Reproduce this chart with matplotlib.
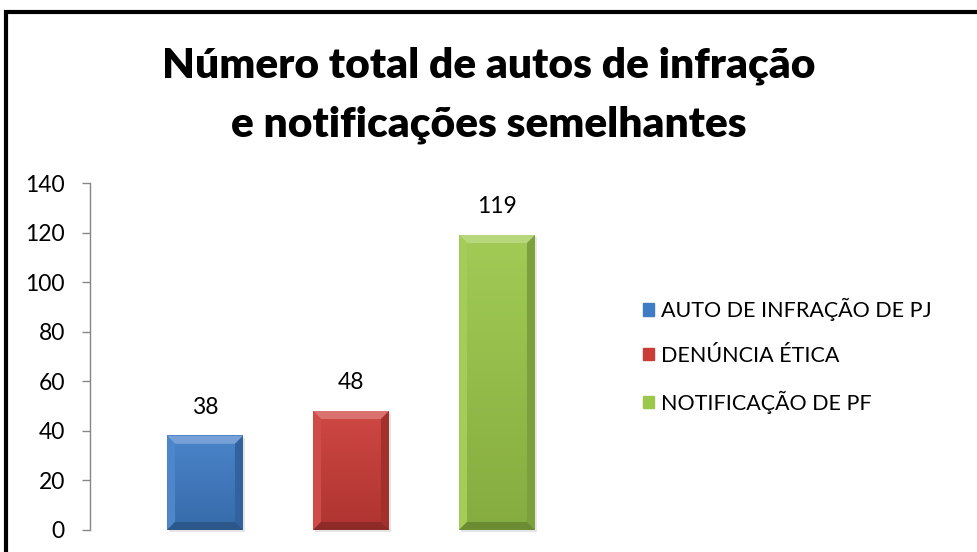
import numpy as np
import matplotlib
matplotlib.use("Agg")
import matplotlib.pyplot as plt
from matplotlib.patches import Polygon, Rectangle
from matplotlib.colors import to_rgb

# data
categories = ["AUTO DE INFRAÇÃO DE PJ", "DENÚNCIA ÉTICA", "NOTIFICAÇÃO DE PF"]
values = [38, 48, 119]
bar_colors = ["#3F7CC6", "#CB3C38", "#9BC84A"]
title_lines = ["Número total de autos de infração", "e notificações semelhantes"]
y_ticks = [0, 20, 40, 60, 80, 100, 120, 140]

plt.rcParams['font.family'] = ['Lato', 'DejaVu Sans']

W, H = 977, 552
fig = plt.figure(figsize=(W / 100, H / 100), dpi=100)
fig.patch.set_facecolor("white")

# axes placed in pixel terms
ax_left, ax_right, ax_top, ax_bottom = 90, 570, 183, 530
ax = fig.add_axes([ax_left / W, (H - ax_bottom) / H,
                   (ax_right - ax_left) / W, (ax_bottom - ax_top) / H])

x = np.arange(len(values))
bar_w = 0.52
ax.set_xlim(-0.788, 2.5)
ax.set_ylim(0, 140)

bars = ax.bar(x, values, width=bar_w, color=bar_colors, zorder=2)


def shade(c, f):
    r = np.array(to_rgb(c))
    if f >= 0:
        return tuple(r + (1 - r) * f)
    return tuple(r * (1 + f))


# pixel size in data units, to draw the bevel edges
p0 = ax.transData.transform((0, 0))
p1 = ax.transData.transform((1, 1))
ux = 1 / (p1[0] - p0[0])
uy = 1 / (p1[1] - p0[1])
bev = 8

for b, c in zip(bars, bar_colors):
    x0 = b.get_x()
    x1 = x0 + b.get_width()
    h = b.get_height()
    bx, by = bev * ux, bev * uy
    b.set_visible(False)
    # soft shadow
    ax.add_patch(Rectangle((x0 + 2 * ux, -2 * uy), x1 - x0, h, color="#000000",
                           alpha=0.10, lw=0, zorder=1.5, clip_on=False))
    # face with vertical gradient
    grad = np.linspace(0, 1, 64).reshape(-1, 1)
    top_c = np.array(shade(c, 0.06))
    bot_c = np.array(shade(c, -0.14))
    img = bot_c[None, None, :] * (1 - grad[:, :, None]) + top_c[None, None, :] * grad[:, :, None]
    ax.imshow(img, extent=[x0, x1, 0, h], origin="lower", aspect="auto",
              zorder=2, interpolation="bilinear")
    # bevel edges
    ax.add_patch(Polygon([(x0, h), (x1, h), (x1 - bx, h - by), (x0 + bx, h - by)],
                         closed=True, color=shade(c, 0.28), lw=0, zorder=3))
    ax.add_patch(Polygon([(x0, 0), (x0, h), (x0 + bx, h - by), (x0 + bx, by)],
                         closed=True, color=shade(c, 0.08), lw=0, zorder=3))
    ax.add_patch(Polygon([(x1, 0), (x1, h), (x1 - bx, h - by), (x1 - bx, by)],
                         closed=True, color=shade(c, -0.2), lw=0, zorder=3))
    ax.add_patch(Polygon([(x0, 0), (x1, 0), (x1 - bx, by), (x0 + bx, by)],
                         closed=True, color=shade(c, -0.3), lw=0, zorder=3))
    ax.annotate(str(int(h)), (b.get_x() + b.get_width() / 2, h), xytext=(0, 13),
                textcoords="offset points", ha="center", va="bottom",
                fontsize=16.5, color="#000000")

ax.set_xlim(-0.788, 2.5)
ax.set_ylim(0, 140)

# axes styling
for s in ["top", "right", "bottom"]:
    ax.spines[s].set_visible(False)
ax.spines["left"].set_color("#868686")
ax.spines["left"].set_linewidth(1)
ax.set_xticks([])
ax.set_yticks(y_ticks)
ax.tick_params(axis="y", direction="out", length=6, width=1, color="#868686",
               labelsize=16.5, pad=12, labelcolor="#000000")
ax.set_facecolor("none")

# legend
handles = [Rectangle((0, 0), 1, 1, color=c) for c in bar_colors]
fig.legend(handles, categories, loc="center left",
           bbox_to_anchor=(624 / W, 1 - 356 / H), frameon=False,
           fontsize=15.5, handlelength=0.5, handleheight=0.5, handletextpad=0.3,
           labelspacing=1.15)

# title, one text per line at its baseline
for line, base in zip(title_lines, [77, 136]):
    fig.text(0.5, 1 - base / H, line, ha="center", va="baseline",
             fontsize=30.5, fontweight="heavy")

# outer border (cropped on the right and bottom)
fig.patches.append(Rectangle((6 / W, -0.1), 1.2, 1 - 12 / H + 0.1,
                             transform=fig.transFigure, fill=False,
                             edgecolor="black", linewidth=3, zorder=10))

fig.savefig("out.png", dpi=100)
